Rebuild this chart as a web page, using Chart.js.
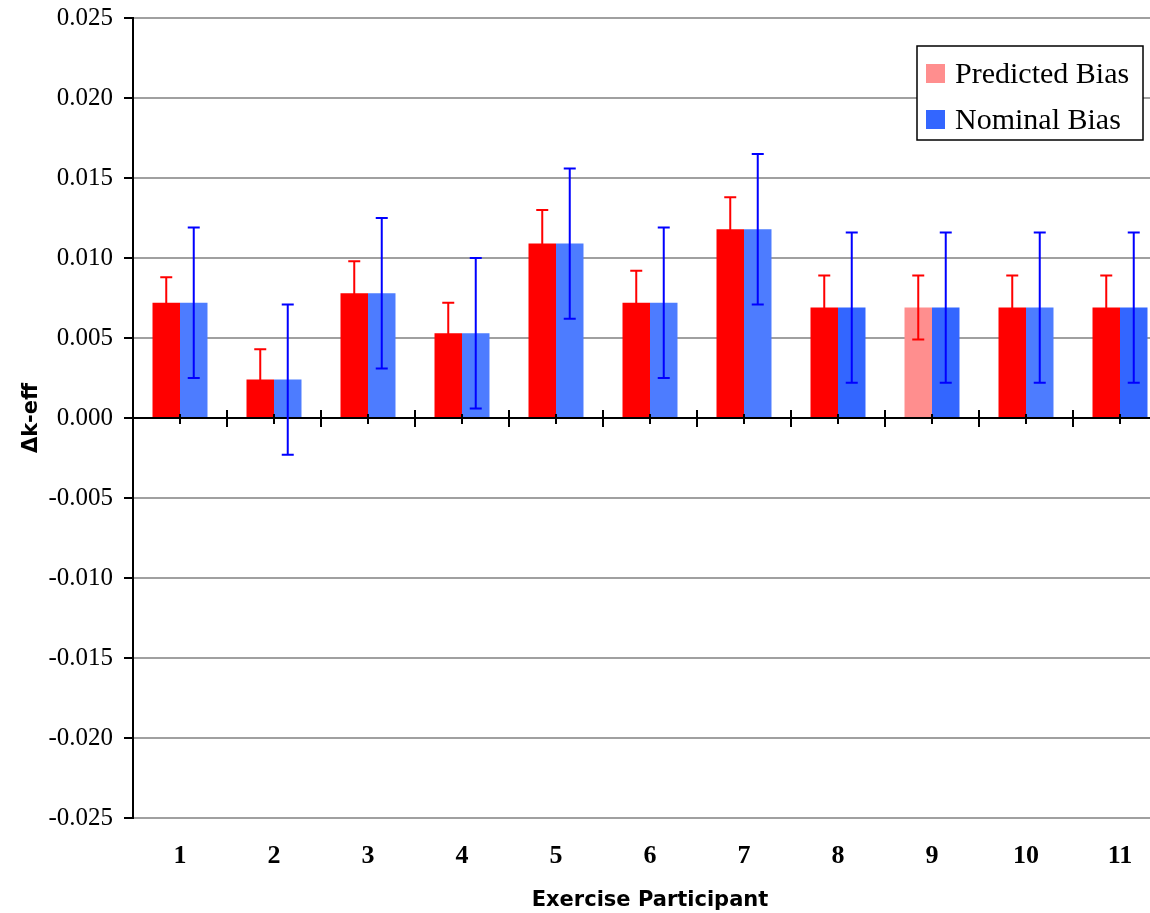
<!DOCTYPE html>
<html>
<head>
<meta charset="utf-8">
<script src="https://cdn.jsdelivr.net/npm/chart.js@4/dist/chart.umd.min.js"></script>
<style>
html,body{margin:0;padding:0;background:#fff;overflow:hidden;width:1150px;height:913px;}
#wrap{position:absolute;left:0;top:0;width:1168px;height:913px;}
</style>
</head>
<body>
<div id="wrap"><canvas id="c" width="1168" height="913"></canvas></div>
<script>
// ---- data ----
const categories = ['1','2','3','4','5','6','7','8','9','10','11'];
const predictedBias = [0.0072, 0.0024, 0.0078, 0.0053, 0.0109, 0.0072, 0.0118, 0.0069, 0.0069, 0.0069, 0.0069];
const nominalBias   = [0.0072, 0.0024, 0.0078, 0.0053, 0.0109, 0.0072, 0.0118, 0.0069, 0.0069, 0.0069, 0.0069];
const predictedErr  = [0.0016, 0.0019, 0.0020, 0.0019, 0.0021, 0.0020, 0.0020, 0.0020, 0.0020, 0.0020, 0.0020];
const nominalErr    = [0.0047, 0.0047, 0.0047, 0.0047, 0.0047, 0.0047, 0.0047, 0.0047, 0.0047, 0.0047, 0.0047];
const yMin = -0.025, yMax = 0.025, yStep = 0.005;

// ---- styles ----
const RED = '#FF0000', PINK = '#FF8E8E', BLUE_L = '#4D7CFF', BLUE_D = '#3366FF';
const predictedColors = [RED, RED, RED, RED, RED, RED, RED, RED, PINK, RED, RED];
const nominalColors = [BLUE_L, BLUE_L, BLUE_L, BLUE_L, BLUE_L, BLUE_L, BLUE_L, BLUE_D, BLUE_D, BLUE_L, BLUE_D];
const errColors = ['#FF0000', '#0000FF'];
const errArrays = [predictedErr, nominalErr];

const errorBarPlugin = {
  id: 'errorBars',
  afterDatasetsDraw(chart) {
    const ctx = chart.ctx;
    const ys = chart.scales.y;
    const xs = chart.scales.x;
    const y0 = ys.getPixelForValue(0);
    ctx.save();
    ctx.strokeStyle = '#000';
    ctx.lineWidth = 2;
    ctx.beginPath();
    ctx.moveTo(chart.chartArea.left, y0);
    ctx.lineTo(chart.chartArea.right, y0);
    ctx.stroke();
    const n = categories.length;
    for (let i = 0; i < n; i++) {
      const c = xs.getPixelForValue(i);
      ctx.beginPath(); ctx.moveTo(c, y0 - 4); ctx.lineTo(c, y0 + 6); ctx.stroke();
      if (i < n - 1) {
        const b = (xs.getPixelForValue(i) + xs.getPixelForValue(i + 1)) / 2;
        ctx.beginPath(); ctx.moveTo(b, y0 - 8); ctx.lineTo(b, y0 + 9); ctx.stroke();
      }
    }
    ctx.restore();

    chart.data.datasets.forEach((ds, di) => {
      const meta = chart.getDatasetMeta(di);
      const errs = errArrays[di];
      ctx.save();
      ctx.strokeStyle = errColors[di];
      ctx.lineWidth = 2;
      meta.data.forEach((bar, i) => {
        const v = ds.data[i], e = errs[i];
        const x = bar.x;
        const yt = ys.getPixelForValue(v + e);
        const yb = ys.getPixelForValue(v - e);
        ctx.beginPath();
        ctx.moveTo(x, yt); ctx.lineTo(x, yb);
        ctx.moveTo(x - 6, yt); ctx.lineTo(x + 6, yt);
        ctx.moveTo(x - 6, yb); ctx.lineTo(x + 6, yb);
        ctx.stroke();
      });
      ctx.restore();
    });
  }
};

const legendPlugin = {
  id: 'boxLegend',
  afterDraw(chart) {
    const ctx = chart.ctx;
    ctx.save();
    ctx.fillStyle = '#fff';
    ctx.fillRect(917, 46, 226, 94);
    ctx.strokeStyle = '#000';
    ctx.lineWidth = 1.5;
    ctx.strokeRect(917, 46, 226, 94);
    const items = [['Predicted Bias', PINK], ['Nominal Bias', BLUE_D]];
    ctx.font = '30px "Liberation Serif"';
    ctx.textBaseline = 'middle';
    items.forEach((it, k) => {
      const cy = 74 + k * 46;
      ctx.fillStyle = it[1];
      ctx.fillRect(926, cy - 10, 19, 19);
      ctx.fillStyle = '#000';
      ctx.fillText(it[0], 955, cy + 1);
    });
    ctx.restore();
  }
};

new Chart(document.getElementById('c'), {
  type: 'bar',
  data: {
    labels: categories,
    datasets: [
      { label: 'Predicted Bias', data: predictedBias, backgroundColor: predictedColors, barPercentage: 1, categoryPercentage: 0.585 },
      { label: 'Nominal Bias', data: nominalBias, backgroundColor: nominalColors, barPercentage: 1, categoryPercentage: 0.585 }
    ]
  },
  options: {
    responsive: false,
    animation: false,
    layout: { padding: { top: 18, right: 1, left: 0, bottom: 0 } },
    plugins: { legend: { display: false }, tooltip: { enabled: false } },
    scales: {
      x: {
        grid: { display: false },
        border: { display: false },
        ticks: { color: '#000', font: { family: '"Liberation Serif"', size: 26, weight: 'bold' }, padding: 15, maxRotation: 0 },
        title: { display: true, text: 'Exercise Participant', color: '#000', font: { family: '"DejaVu Sans"', size: 21, weight: 'bold' }, padding: { top: 0, bottom: 0 } },
        afterFit(s) { s.height = 95; }
      },
      y: {
        min: yMin, max: yMax,
        ticks: { stepSize: yStep, color: '#000', font: { family: '"Liberation Serif"', size: 25 }, padding: 11, callback: v => v.toFixed(3) },
        grid: { color: '#A0A0A0', lineWidth: 2, tickLength: 9, tickColor: '#000', tickWidth: 2 },
        border: { color: '#000', width: 2 },
        title: { display: true, text: 'Δk-eff', color: '#000', font: { family: '"DejaVu Sans"', size: 21, weight: 'bold' }, padding: { top: 19, bottom: 0 } },
        afterFit(s) { s.width = 133; s.paddingTop = 0; }
      }
    }
  },
  plugins: [errorBarPlugin, legendPlugin]
});
</script>
</body>
</html>
